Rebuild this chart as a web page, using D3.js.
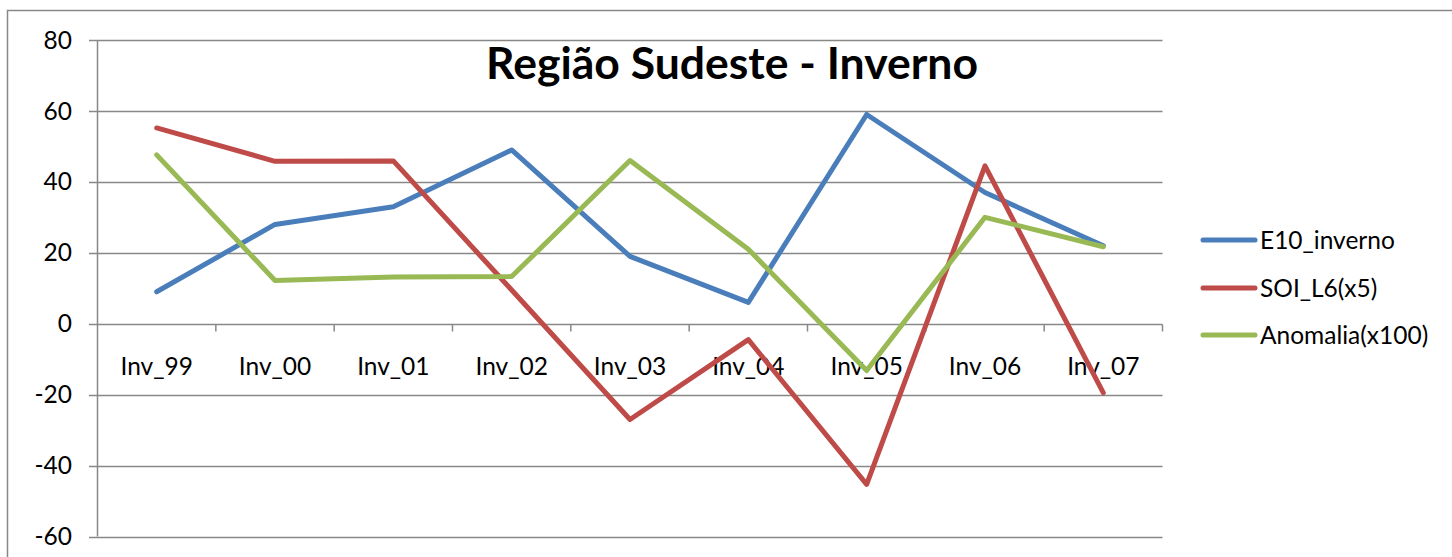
<!DOCTYPE html>
<html><head><meta charset="utf-8">
<script src="https://cdn.jsdelivr.net/npm/d3@7"></script>
<style>body{margin:0;background:#fff}svg{display:block}text{font-family:Lato,"Open Sans",sans-serif}</style>
</head><body>
<script>
const categories = ["Inv_99","Inv_00","Inv_01","Inv_02","Inv_03","Inv_04","Inv_05","Inv_06","Inv_07"];
const e10 = [9, 28, 33, 49, 19, 6, 59, 37, 22];
const soi = [55.2, 45.8, 45.9, 9.5, -27, -4.5, -45.3, 44.5, -19.5];
const anom = [47.6, 12.2, 13.2, 13.3, 46, 21, -13.2, 30, 21.7];
const seriesNames = ["E10_inverno","SOI_L6(x5)","Anomalia(x100)"];
const colors = ["#4a7ebb","#be4b48","#98b954"];
const yTicks = [-60,-40,-20,0,20,40,60,80];

const W=1452,H=557;
const svg=d3.select("body").append("svg").attr("width",W).attr("height",H);
// chart border
svg.append("path").attr("d","M7.5,557 V10.5 H1452").attr("fill","none").attr("stroke","#888").attr("stroke-width",1.5);

const x=d3.scaleBand().domain(categories).range([97.5,1162.5]);
const y=d3.scaleLinear().domain([-60,80]).range([536.5,40]);

// gridlines
svg.append("g").selectAll("line").data(yTicks).join("line")
  .attr("x1",89).attr("x2",1162.5).attr("y1",d=>Math.round(y(d))+0.5).attr("y2",d=>Math.round(y(d))+0.5)
  .attr("stroke","#888").attr("stroke-width",1.5);
// y axis line
svg.append("line").attr("x1",97.5).attr("x2",97.5).attr("y1",40).attr("y2",536.5).attr("stroke","#888").attr("stroke-width",1.5);
// y labels
svg.append("g").selectAll("text").data(yTicks).join("text")
  .attr("x",72).attr("y",d=>y(d)).attr("dy","0.35em").attr("text-anchor","end")
  .attr("font-size",24.5).attr("fill","#000").text(d=>d);
// category ticks (band boundaries) on zero line
const y0=Math.round(y(0))+0.5;
svg.append("g").selectAll("line").data(categories).join("line")
  .attr("x1",d=>x(d)+x.bandwidth()).attr("x2",d=>x(d)+x.bandwidth())
  .attr("y1",y0).attr("y2",y0+7).attr("stroke","#888").attr("stroke-width",1.5);
// category labels
svg.append("g").selectAll("text").data(categories).join("text")
  .attr("x",d=>x(d)+x.bandwidth()/2).attr("y",366).attr("dy","0.35em").attr("text-anchor","middle")
  .attr("font-size",24.5).attr("fill","#000").text(d=>d);

// lines
const data=[e10,soi,anom];
const line=d3.line().x((d,i)=>x(categories[i])+x.bandwidth()/2).y(d=>y(d));
data.forEach((s,k)=>{
  svg.append("path").datum(s).attr("d",line).attr("fill","none")
    .attr("stroke",colors[k]).attr("stroke-width",5).attr("stroke-linejoin","round").attr("stroke-linecap","round");
});

// title
svg.append("text").attr("x",732).attr("y",63).attr("dy","0.35em").attr("text-anchor","middle")
  .attr("font-size",44.5).attr("font-weight","bold").attr("fill","#000").text("Região Sudeste - Inverno");

// legend
const ly=[240,288,335];
seriesNames.forEach((n,k)=>{
  svg.append("line").attr("x1",1203).attr("x2",1255).attr("y1",ly[k]).attr("y2",ly[k])
    .attr("stroke",colors[k]).attr("stroke-width",5).attr("stroke-linecap","round");
  svg.append("text").attr("x",1260).attr("y",ly[k]).attr("dy","0.35em").attr("font-size",24.5).attr("fill","#000").text(n);
});
</script>
</body></html>
